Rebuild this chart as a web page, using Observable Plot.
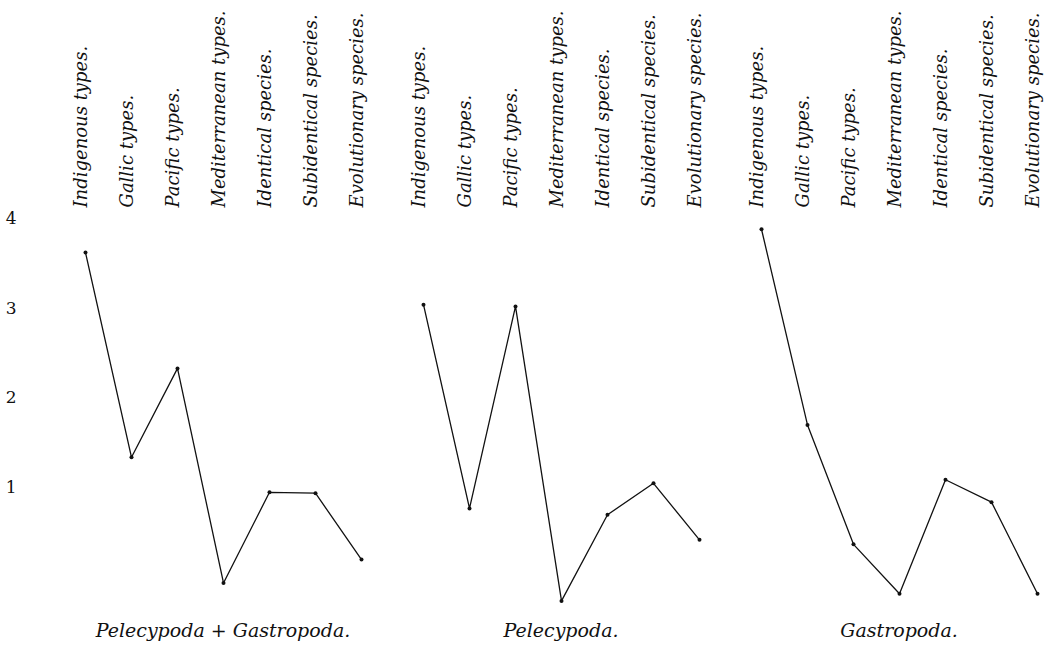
<!DOCTYPE html>
<html><head><meta charset="utf-8">
<script src="https://cdn.jsdelivr.net/npm/d3@7"></script>
<script src="https://cdn.jsdelivr.net/npm/@observablehq/plot@0.6"></script>
<style>body{margin:0;background:#fff}</style>
</head><body><div id="chart"></div>
<script>
const categories = ["Indigenous types.", "Gallic types.", "Pacific types.", "Mediterranean types.", "Identical species.", "Subidentical species.", "Evolutionary species."];
const panels = ["Pelecypoda + Gastropoda.", "Pelecypoda.", "Gastropoda."];
const combinedValues = [3.62, 1.34, 2.33, -0.06, 0.95, 0.94, 0.20];
const pelecypodaValues = [3.04, 0.77, 3.02, -0.26, 0.70, 1.05, 0.42];
const gastropodaValues = [3.88, 1.70, 0.37, -0.18, 1.09, 0.84, -0.18];
const yTicks = [1, 2, 3, 4];

const series = [combinedValues, pelecypodaValues, gastropodaValues];
const data = panels.flatMap((p, i) => categories.map((c, j) => ({panel: p, category: c, value: series[i][j]})));

const chart = Plot.plot({
  width: 1045, height: 651,
  marginLeft: 78, marginRight: 1, marginTop: 218, marginBottom: 47,
  facet: {marginTop: 0, marginBottom: 0, marginLeft: 0, marginRight: 0},
  style: {fontFamily: "DejaVu Serif", color: "#111", background: "#fff"},
  fx: {domain: panels, paddingInner: 0.144, paddingOuter: 0, label: null},
  x: {domain: categories, padding: 0.1, label: null},
  y: {domain: [-0.3, 4], label: null},
  marks: [
    Plot.axisY(yTicks, {anchor: "left", tickSize: 0, tickPadding: 62, tickFormat: "d", fontSize: 17, label: null}),
    Plot.axisX({anchor: "top", tickSize: 0, tickRotate: -90, tickPadding: 11, dx: -4, textAnchor: "start", fontSize: 18, fontStyle: "italic", label: null}),
    Plot.axisFx({anchor: "bottom", tickSize: 0, tickPadding: 19, fontSize: 19, fontStyle: "italic", label: null}),
    Plot.line(data, {fx: "panel", x: "category", y: "value", stroke: "#111", strokeWidth: 1.3}),
    Plot.dot(data, {fx: "panel", x: "category", y: "value", r: 2, fill: "#111"})
  ]
});
document.getElementById("chart").appendChild(chart);
</script>
</body></html>
